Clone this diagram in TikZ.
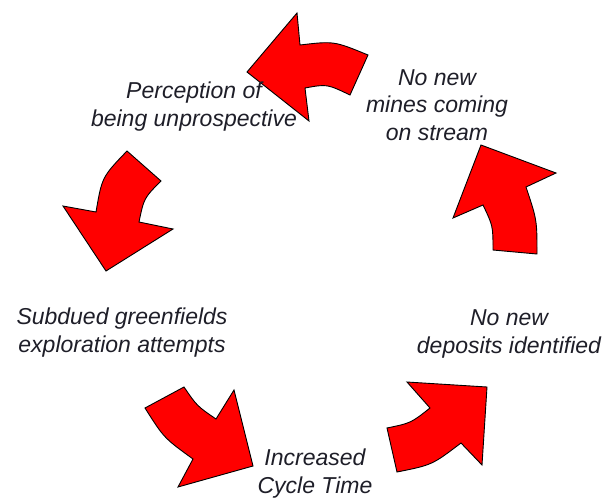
\documentclass[tikz,border=0pt]{standalone}
\usepackage{fontspec}
\setmainfont{Liberation Sans}
\definecolor{arrowred}{RGB}{255,0,0}
\definecolor{txt}{RGB}{30,30,40}
\begin{document}
\begin{tikzpicture}[x=1pt,y=-1pt,
  bigarrow/.style={fill=arrowred, draw=black, line width=0.9pt, line join=miter},
  lbl/.style={font=\fontsize{23}{27.5}\selectfont\itshape, text=txt, inner sep=0pt, anchor=base}]
\useasboundingbox (0,0) rectangle (608,498);
% arrows
\draw[bigarrow] (247,72) -- (297,13) -- (300,45) .. controls (334,41) .. (368,55) -- (350,95) .. controls (327,84) .. (305,88) -- (309,121) -- cycle;
\draw[bigarrow] (106,271) -- (63,206) -- (96,212) .. controls (102,177) .. (127,151) -- (161,181) .. controls (144,198) .. (139,222) -- (173,229) -- cycle;
\draw[bigarrow] (481,145) -- (556,173) -- (526,187) .. controls (537,220) .. (537,254) -- (493,250) .. controls (493,226) .. (483,205) -- (453,218) -- cycle;
\draw[bigarrow] (145,408) -- (184,387) .. controls (197,406) .. (216,419) -- (234,390) -- (253,466) -- (178,487) -- (193,459) .. controls (164,438) .. (145,408) -- cycle;
\draw[bigarrow] (397,472) -- (387,428) .. controls (411,423) .. (430,408) -- (407,382) -- (487,387) -- (482,465) -- (461,443) .. controls (432,465) .. (397,472) -- cycle;
% labels (base anchor = baseline of the last line)
\node[lbl, align=center] (perc) at (194,126) {Perception of\\being unprospective};
\node[lbl, align=center] (mines) at (437,140) {No new\\mines coming\\on stream};
\node[lbl, align=center] (subd) at (122,352) {Subdued greenfields\\exploration attempts};
\node[lbl, align=center] (depo) at (509,353) {No new\\deposits identified};
\node[lbl, align=center] (cyc) at (315,493) {Increased\\Cycle Time};
\end{tikzpicture}
\end{document}
